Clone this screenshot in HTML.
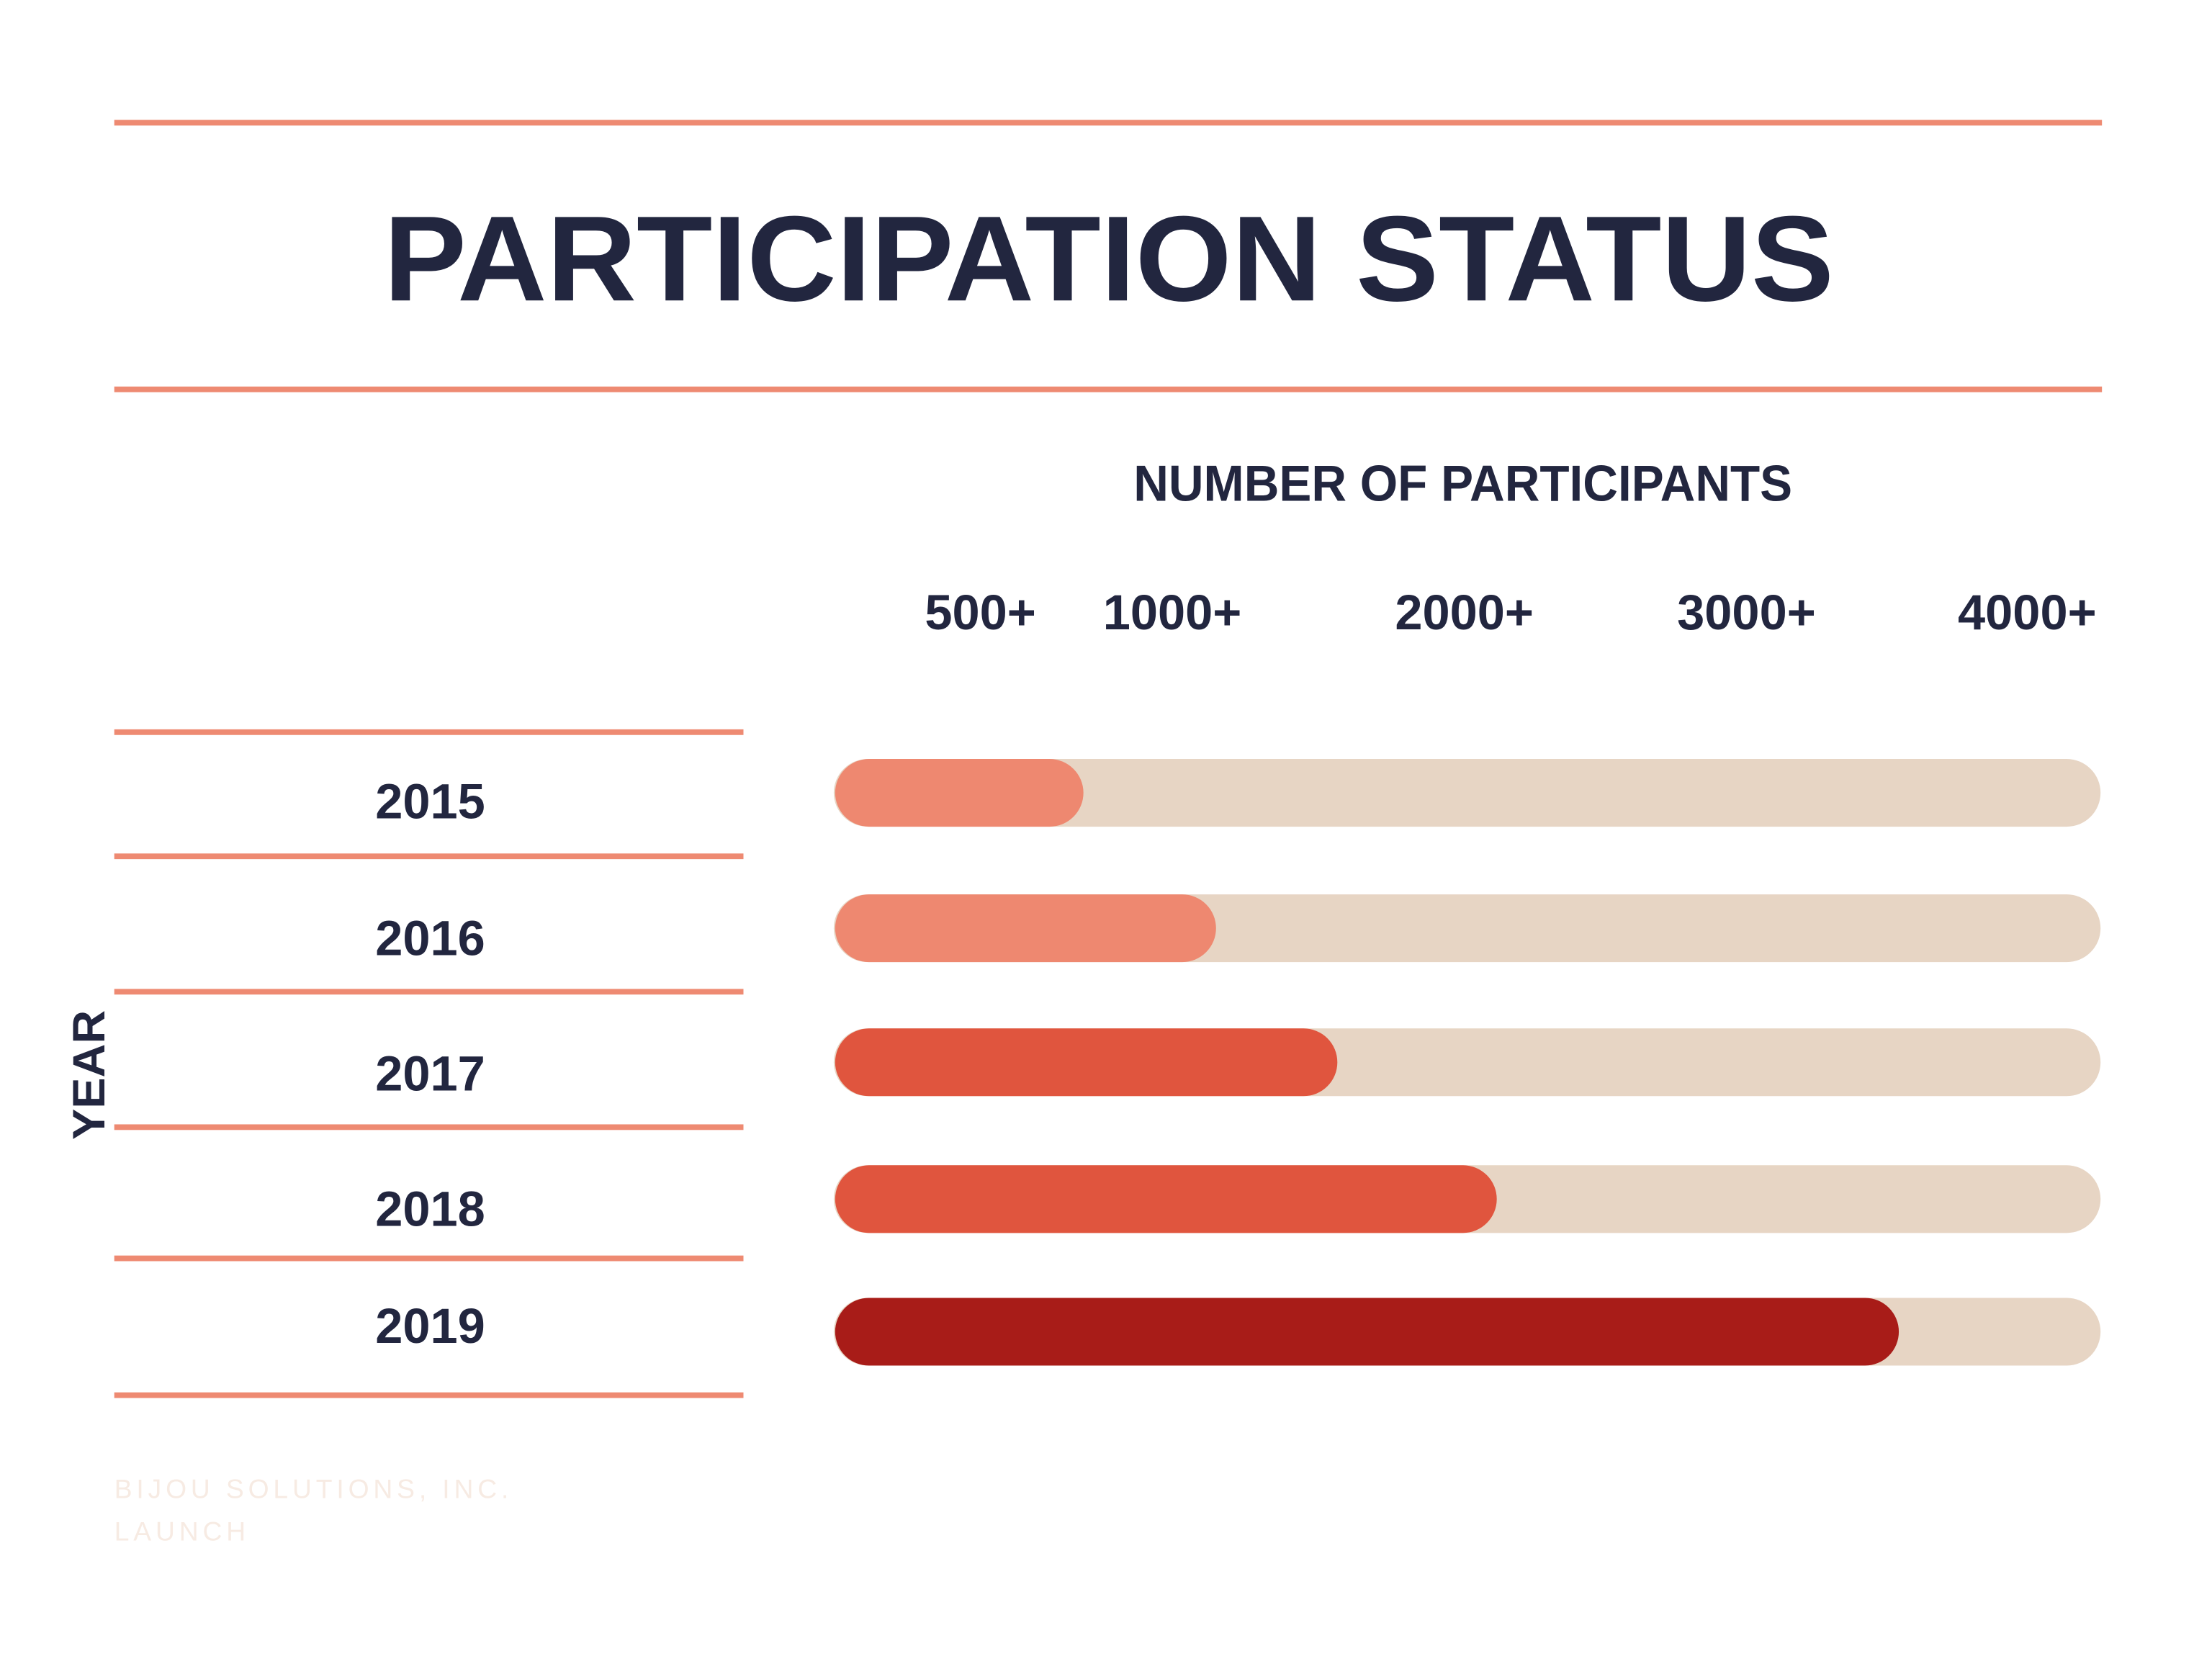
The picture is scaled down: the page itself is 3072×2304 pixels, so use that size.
<!DOCTYPE html>
<html><head><meta charset="utf-8">
<style>
html,body{margin:0;padding:0;background:#fff;}
svg{display:block;}
text{font-family:"Liberation Sans",sans-serif;font-weight:bold;fill:#22263f;}
</style></head>
<body>
<svg id="chart" width="3072" height="2304" viewBox="0 0 1568 1176" xmlns="http://www.w3.org/2000/svg">
  <rect width="1568" height="1176" fill="#fff"/>
  <rect x="81" y="85" width="1409" height="4" fill="#ee8a72"/>
  <text x="786" y="213" font-size="86" text-anchor="middle" textLength="1028" lengthAdjust="spacingAndGlyphs">PARTICIPATION STATUS</text>
  <rect x="81" y="274" width="1409" height="4" fill="#ee8a72"/>
  <text x="1037" y="355" font-size="36" text-anchor="middle" textLength="467" lengthAdjust="spacingAndGlyphs">NUMBER OF PARTICIPANTS</text>
  <text transform="translate(74,762) rotate(-90)" font-size="32" text-anchor="middle" textLength="92" lengthAdjust="spacingAndGlyphs">YEAR</text>
  <g id="ticks"></g>
  <g id="rules"></g>
  <g id="rows"></g>
  <text x="81" y="1062" font-size="19" style="fill:#f7ebe3;font-weight:normal;letter-spacing:3px">BIJOU SOLUTIONS, INC.</text>
  <text x="81" y="1092" font-size="19" style="fill:#f7ebe3;font-weight:normal;letter-spacing:3px">LAUNCH</text>
</svg>
<script>
const years = ["2015","2016","2017","2018","2019"];
const participants = [685, 1155, 1585, 2150, 3575];
const barColors = ["#ee8870","#ee8870","#e0553e","#e0553e","#a81c18"];
const tickLabels = ["500+","1000+","2000+","3000+","4000+"];
const tickValues = [320, 1000, 2035, 3035, 4030];

const NS = "http://www.w3.org/2000/svg";
const trackX0 = 591, trackX1 = 1489, barH = 48;
function xScale(v){ return 631 + v * 0.2; }
function rowY(i){ return [562, 658, 753, 850, 944][i]; }
const ruleYs = [519, 607, 703, 799, 892, 989];
const labelYs = [580, 677, 773, 869, 952];

const ticksG = document.getElementById('ticks');
tickLabels.forEach((t, i) => {
  const el = document.createElementNS(NS, 'text');
  el.setAttribute('x', xScale(tickValues[i]));
  el.setAttribute('y', 446);
  el.setAttribute('font-size', 35);
  el.setAttribute('text-anchor', 'middle');
  el.textContent = t;
  
  
  ticksG.appendChild(el);
});

const rulesG = document.getElementById('rules');
ruleYs.forEach(y => {
  const r = document.createElementNS(NS, 'rect');
  r.setAttribute('x', 81); r.setAttribute('y', y - 2);
  r.setAttribute('width', 446); r.setAttribute('height', 4);
  r.setAttribute('fill', '#ee8a72');
  
  
  rulesG.appendChild(r);
});

const rowsG = document.getElementById('rows');
years.forEach((yr, i) => {
  const cy = rowY(i);
  const lab = document.createElementNS(NS, 'text');
  lab.setAttribute('x', 305); lab.setAttribute('y', labelYs[i]);
  lab.setAttribute('font-size', 35); lab.setAttribute('text-anchor', 'middle');
  lab.textContent = yr;
  
  
  rowsG.appendChild(lab);

  const track = document.createElementNS(NS, 'rect');
  track.setAttribute('x', trackX0); track.setAttribute('y', cy - barH/2);
  track.setAttribute('width', trackX1 - trackX0); track.setAttribute('height', barH);
  track.setAttribute('rx', 24); track.setAttribute('fill', '#e7d5c4');
  
  
  rowsG.appendChild(track);

  const bar = document.createElementNS(NS, 'rect');
  const x0 = trackX0 + 1;
  bar.setAttribute('x', x0); bar.setAttribute('y', cy - barH/2);
  bar.setAttribute('width', Math.max(barH, xScale(participants[i]) - x0));
  bar.setAttribute('height', barH);
  bar.setAttribute('rx', 24); bar.setAttribute('fill', barColors[i]);
  
  
  rowsG.appendChild(bar);
});
</script>
</body></html>
